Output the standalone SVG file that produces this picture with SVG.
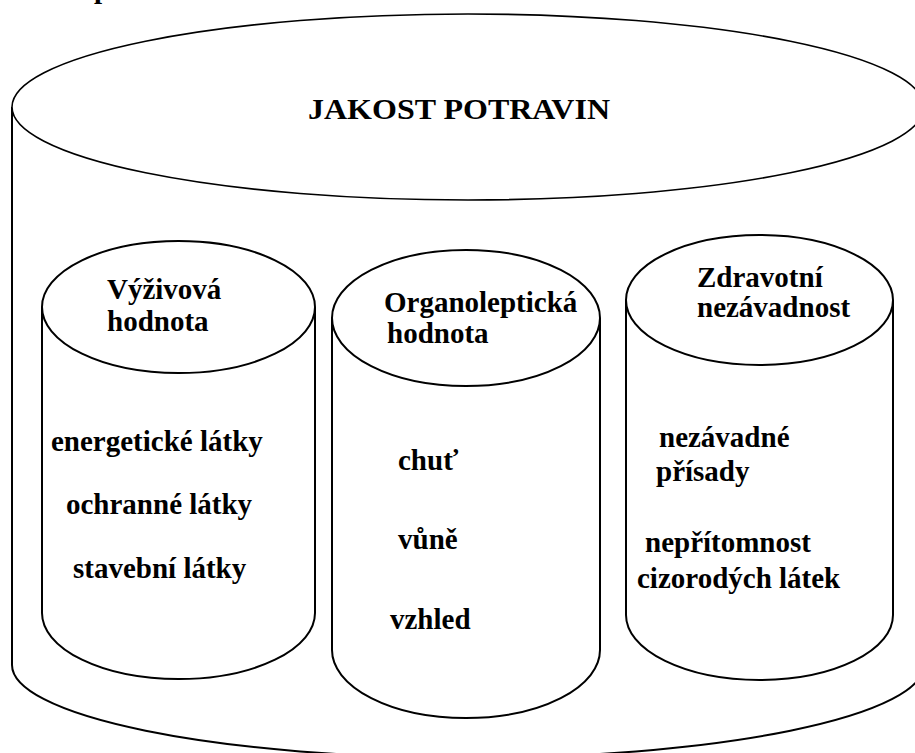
<svg xmlns="http://www.w3.org/2000/svg" width="915" height="753" viewBox="0 0 915 753">
<style>
.sh{fill:#fff;stroke:#000;stroke-width:2}
.top{fill:#fff;stroke:#000;stroke-width:1.6}
.t{font-family:'Liberation Serif','Times New Roman',Tinos,'DejaVu Serif',serif;font-weight:bold;font-size:29px;fill:#000}
</style>
<rect width="915" height="753" fill="#fff"/>
<text class="t" x="94" y="-2" font-family="Liberation Serif, serif">p</text>
<g id="jakost-potravin">
<path class="sh" d="M12,107 L12,665 A456,93 0 0 0 924,665 L924,107"/>
<ellipse class="top" cx="468" cy="107" rx="456" ry="93"/>
<text class="t" x="308" y="119" font-family="Liberation Serif, serif" textLength="302" lengthAdjust="spacingAndGlyphs">JAKOST POTRAVIN</text>
</g>
<g id="vyzivova-hodnota" font-family="Liberation Serif, serif">
<path class="sh" d="M42,307 L42,613 A136.5,66 0 0 0 315,613 L315,307"/>
<ellipse class="sh" cx="178.5" cy="307" rx="136.5" ry="66"/>
<text class="t" x="107" y="299">Výživová</text>
<text class="t" x="107" y="331">hodnota</text>
<text class="t" x="51" y="451">energetické látky</text>
<text class="t" x="66" y="514">ochranné látky</text>
<text class="t" x="73" y="578">stavební látky</text>
</g>
<g id="organolepticka-hodnota" font-family="Liberation Serif, serif">
<path class="sh" d="M332,318 L332,650 A134,68 0 0 0 600,650 L600,318"/>
<ellipse class="sh" cx="466" cy="318" rx="134" ry="68"/>
<text class="t" x="384" y="312">Organoleptická</text>
<text class="t" x="387" y="343">hodnota</text>
<text class="t" x="398" y="470">chuť</text>
<text class="t" x="398" y="549">vůně</text>
<text class="t" x="390" y="629">vzhled</text>
</g>
<g id="zdravotni-nezavadnost" font-family="Liberation Serif, serif">
<path class="sh" d="M626,300 L626,615 A133.5,65 0 0 0 893,615 L893,300"/>
<ellipse class="sh" cx="759.5" cy="300" rx="133.5" ry="65"/>
<text class="t" x="697" y="287">Zdravotní</text>
<text class="t" x="697" y="317">nezávadnost</text>
<text class="t" x="659" y="447">nezávadné</text>
<text class="t" x="656" y="481">přísady</text>
<text class="t" x="645" y="552">nepřítomnost</text>
<text class="t" x="637" y="588">cizorodých látek</text>
</g>
</svg>
